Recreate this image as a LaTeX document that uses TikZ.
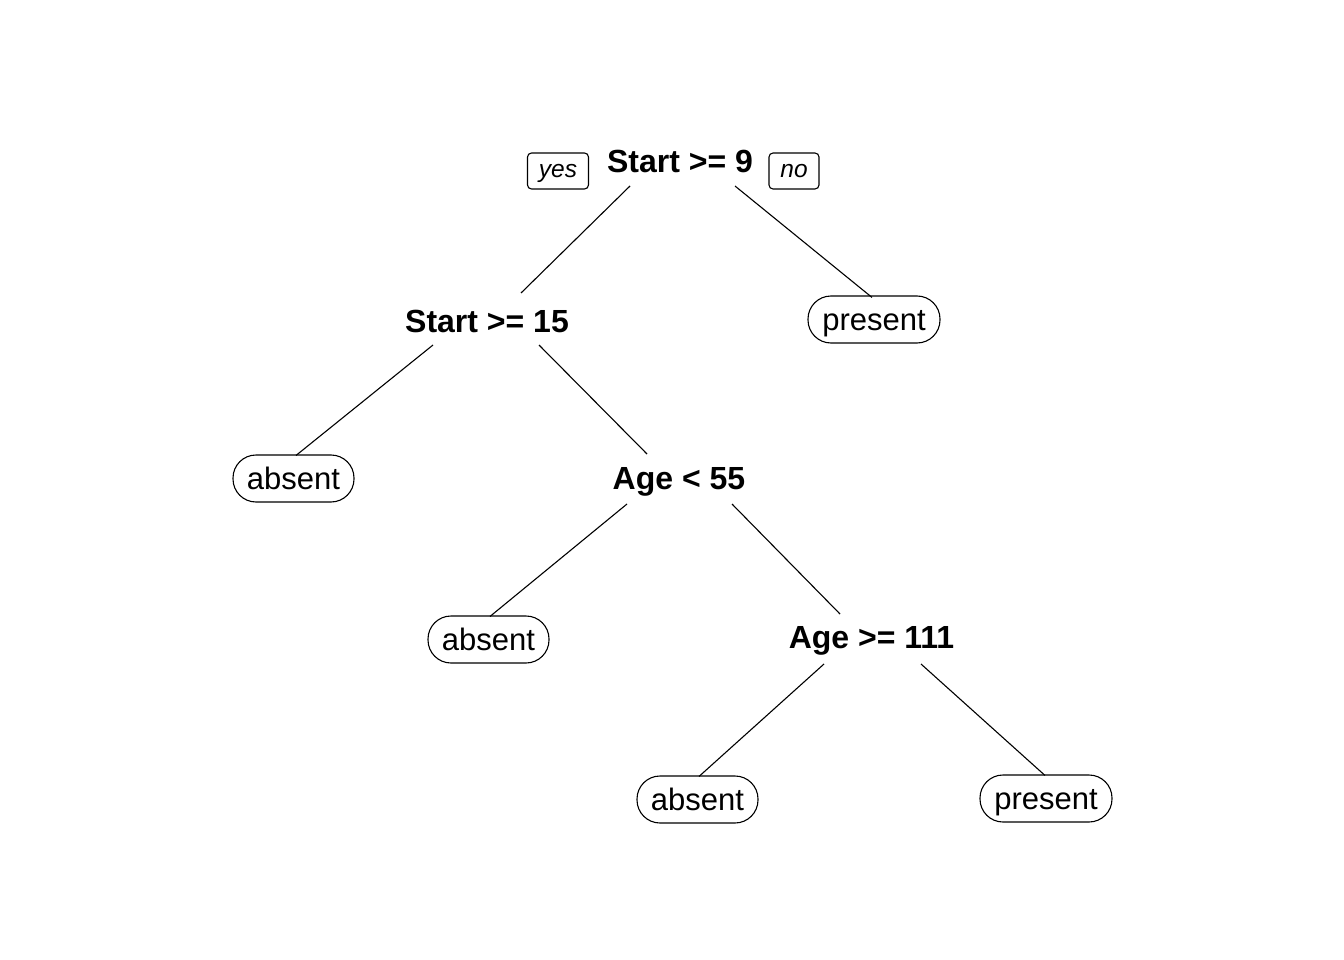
\documentclass[tikz,border=0pt]{standalone}
\usepackage{fontspec}
\setmainfont{Liberation Sans}
\usetikzlibrary{calc}
\begin{document}
\begin{tikzpicture}[x=1pt,y=-1pt,
  split/.style={inner sep=0pt, text height=23pt, text depth=0pt,
    font=\fontsize{32}{36}\selectfont\bfseries},
  leaf/.style={draw, line width=1.1pt, rounded corners=23pt, inner sep=0pt,
    minimum height=47pt, text height=22pt, text depth=0pt,
    font=\fontsize{31}{36}\selectfont},
  tag/.style={draw, line width=1.1pt, rounded corners=4pt, inner sep=0pt,
    minimum height=36pt, text height=12.5pt, text depth=0pt,
    font=\fontsize{24.5}{28}\selectfont\itshape},
  edge/.style={line width=1.1pt}]
\useasboundingbox (0,0) rectangle (1344,960);

% split nodes
\node[split] (root) at (680,161.5) {Start >= 9};
\node[split] (s15)  at (487,321)   {Start >= 15};
\node[split] (a55)  at (679,478)   {Age < 55};
\node[split] (a111) at (871.5,637) {Age >= 111};

% leaves
\node[leaf, minimum width=132pt] (pres1) at (874,319.5)  {present};
\node[leaf, minimum width=121pt] (abs1)  at (293.5,478.5) {absent};
\node[leaf, minimum width=121pt] (abs2)  at (488.5,639.5) {absent};
\node[leaf, minimum width=121pt] (abs3)  at (697.5,799.5) {absent};
\node[leaf, minimum width=132pt] (pres2) at (1046,798.5)  {present};

% branch labels
\node[tag, minimum width=61pt] (yes) at (558,171) {yes};
\node[tag, minimum width=50pt] (no)  at (794,171) {no};

% connectors
\draw[edge] ($(root)+(-50,24.5)$) -- ($(s15)+(34,-28)$);
\draw[edge] ($(root)+(55,24.5)$) -- ($(pres1.north)+(-2,2)$);
\draw[edge] ($(s15)+(-54,24)$) -- ($(abs1.north)+(2.5,1)$);
\draw[edge] ($(s15)+(52,24)$) -- ($(a55)+(-32,-24)$);
\draw[edge] ($(a55)+(-52,26)$) -- ($(abs2.north)+(1.5,1)$);
\draw[edge] ($(a55)+(53,26)$) -- ($(a111)+(-31.5,-23)$);
\draw[edge] ($(a111)+(-47.5,27)$) -- ($(abs3.north)+(1.5,1)$);
\draw[edge] ($(a111)+(49.5,27)$) -- ($(pres2.north)+(-1,1)$);
\end{tikzpicture}
\end{document}
